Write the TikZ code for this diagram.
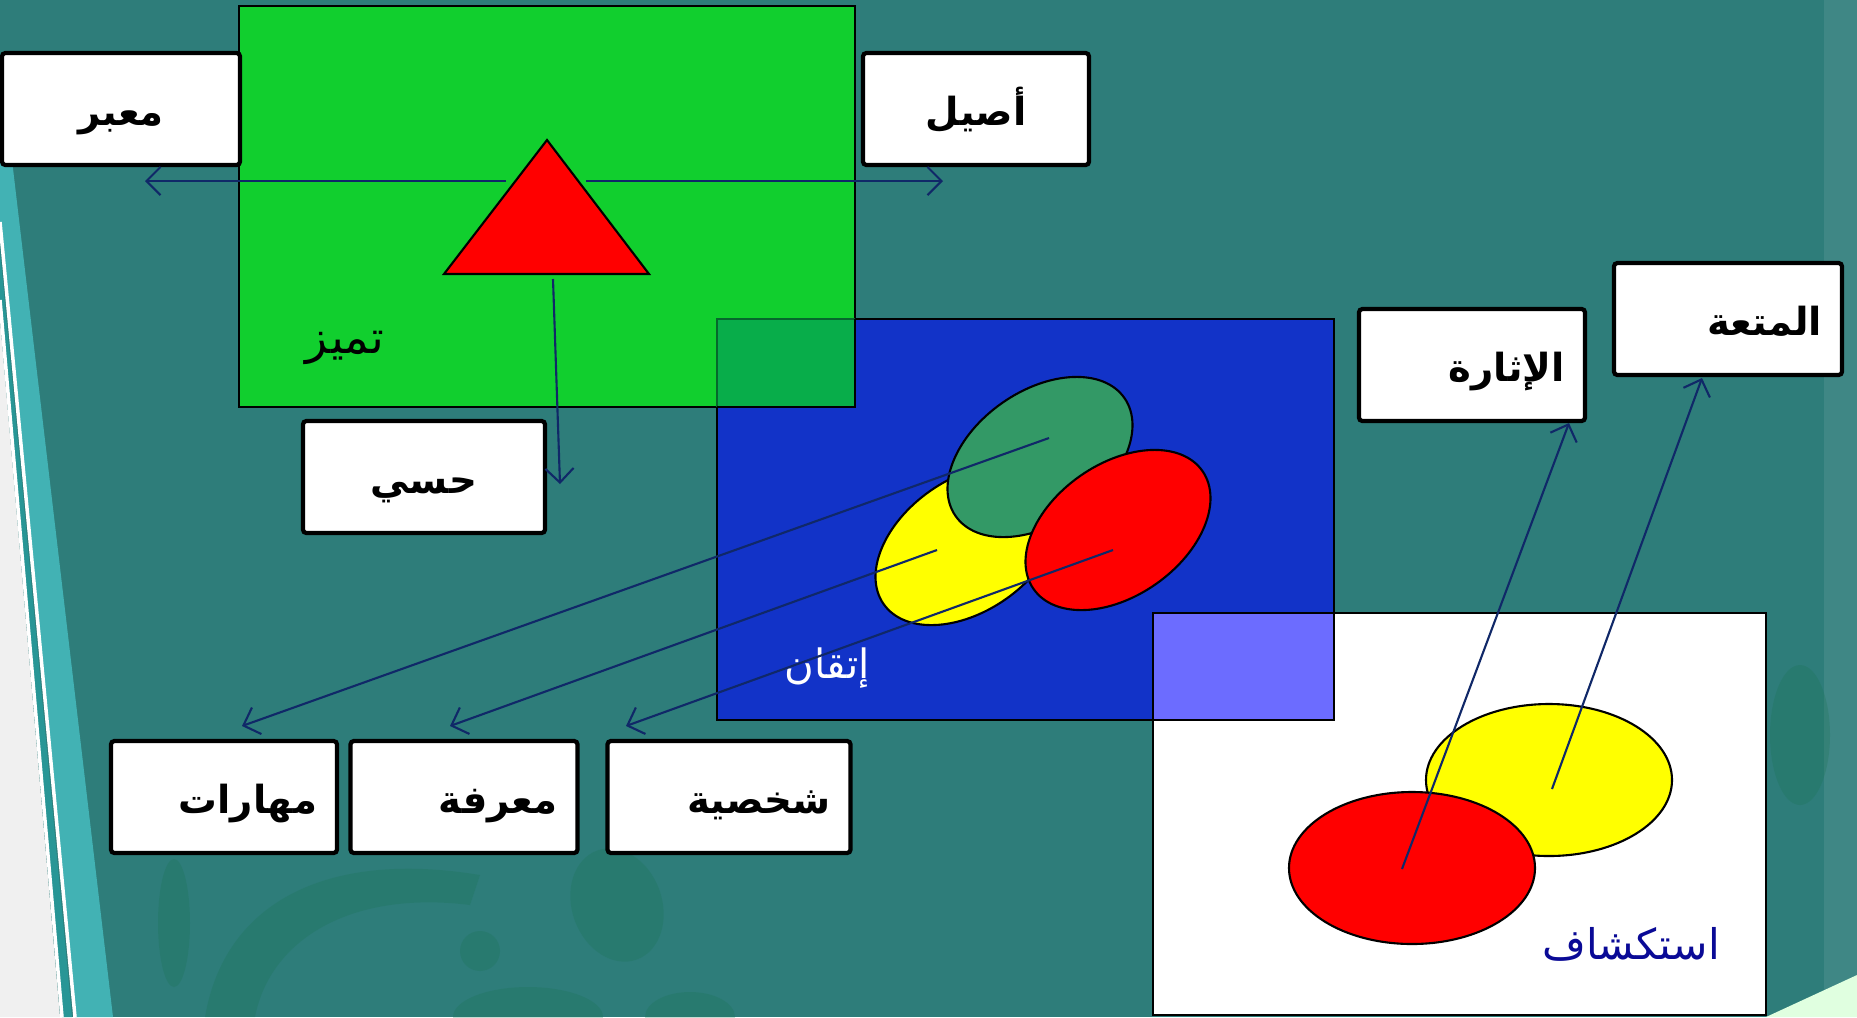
\documentclass[tikz,border=0pt]{standalone}
\usepackage{fontspec}
\usetikzlibrary{arrows.meta}
\newfontfamily\arabicfont[Script=Arabic]{DejaVu Sans}
\TeXXeTstate=1
\newcommand\boxfont{\arabicfont\bfseries\fontsize{11}{13}\selectfont}
\newcommand\tagfont{\arabicfont\fontsize{12}{14}\selectfont}
\definecolor{slideteal}{RGB}{46,125,122}
\definecolor{bandcyan}{RGB}{66,178,180}
\definecolor{bandteal}{RGB}{40,150,150}
\definecolor{leafgreen}{RGB}{25,115,80}
\definecolor{panelgreen}{RGB}{17,207,46}
\definecolor{panelblue}{RGB}{18,51,200}
\definecolor{greenonblue}{RGB}{8,173,74}
\definecolor{whiteonblue}{RGB}{108,108,255}
\definecolor{ovalgreen}{RGB}{51,153,102}
\definecolor{ovalyellow}{RGB}{255,255,0}
\definecolor{ovalred}{RGB}{255,0,0}
\definecolor{linenavy}{RGB}{16,40,104}
\definecolor{labelblue}{RGB}{10,10,150}

\begin{document}
\begin{tikzpicture}[x=0.01cm,y=-0.01cm,
  >={Straight Barb[length=4pt,width=8pt]},
  link/.style={draw=linenavy,line width=0.6pt,->},
  panel/.style={draw=black,line width=0.5pt},
  oval/.style={draw=black,line width=0.6pt},
  wordbox/.style={draw=black,line width=1.2pt,fill=white,rounded corners=1pt,
    minimum height=1.12cm,inner xsep=0.2cm,text height=9.5pt,text depth=0pt,font=\boxfont},
  leaf/.style={fill=leafgreen,opacity=0.25}]
  \useasboundingbox (0,0) rectangle (1857,1017);
  % slide background
  \fill[slideteal] (0,0) rectangle (1857,1017);
  \fill[bandcyan] (0,160) -- (12,160) -- (113,1017) -- (75,1017) -- (0,222) -- cycle;
  \fill[bandteal] (0,250) -- (72,1017) -- (62,1017) -- (0,300) -- cycle;
  \fill[black!6] (0,320) -- (60,1017) -- (0,1017) -- cycle;
  \draw[white,line width=1pt] (0,222) -- (75,1017);
  \draw[white,line width=1pt] (0,300) -- (62,1017);
  \fill[slideteal!92!white] (1824,0) rectangle (1857,1017);
  \fill[green!12!white] (1766,1017) -- (1857,975) -- (1857,1017) -- cycle;
  \fill[leaf] (174,923) ellipse [x radius=16, y radius=64];
  \fill[leaf] (205,1017) .. controls (225,900) and (330,850) .. (480,875)
    -- (470,905) .. controls (350,890) and (270,940) .. (255,1017) -- cycle;
  \fill[leaf,rotate around={20:(617,905)}] (617,905) ellipse [x radius=45, y radius=58];
  \fill[leaf] (480,951) circle [radius=20];
  \fill[leaf] (528,1017) ellipse [x radius=75, y radius=30];
  \fill[leaf] (690,1017) ellipse [x radius=45, y radius=25];
  \fill[leaf] (1800,735) ellipse [x radius=30, y radius=70];

  % panels
  \filldraw[panel,fill=panelblue] (717,319) rectangle (1334,720);
  \filldraw[panel,fill=panelgreen] (239,6) rectangle (855,407);
  \fill[greenonblue] (717,319) rectangle (855,407);
  \draw[black!40!greenonblue,line width=0.5pt] (717,407) -- (717,319) -- (855,319);
  \draw[panel] (855,319) -- (855,407) -- (717,407);
  \filldraw[panel,fill=white] (1153,613) rectangle (1766,1015);
  \filldraw[panel,fill=whiteonblue] (1153,613) rectangle (1334,720);
  \filldraw[oval,fill=ovalred] (547,140) -- (649,274) -- (444,274) -- cycle;

  % ovals
  \filldraw[oval,fill=ovalyellow,rotate around={35:(968,545)}] (968,545) ellipse [x radius=103, y radius=66];
  \filldraw[oval,fill=ovalgreen,rotate around={35:(1040,457)}] (1040,457) ellipse [x radius=103, y radius=66];
  \filldraw[oval,fill=ovalred,rotate around={35:(1118,530)}] (1118,530) ellipse [x radius=103, y radius=66];
  \filldraw[oval,fill=ovalyellow] (1549,780) ellipse [x radius=123, y radius=76];
  \filldraw[oval,fill=ovalred] (1412,868) ellipse [x radius=123, y radius=76];

  % word boxes
  \node[wordbox,minimum width=2.38cm,align=center] (expressive) at (121,109) {\beginR معبر\endR};
  \node[wordbox,minimum width=2.26cm,align=center] (original) at (976,109) {\beginR أصيل\endR};
  \node[wordbox,minimum width=2.42cm,align=center] (sensory) at (424,477) {\beginR حسي\endR};
  \node[wordbox,text width=1.86cm,align=right] (arousal) at (1472,365) {\beginR الإثارة\endR};
  \node[wordbox,text width=1.88cm,align=right] (enjoyment) at (1728,319) {\beginR المتعة\endR};
  \node[wordbox,text width=1.86cm,align=right] (skills) at (224,797) {\beginR مهارات\endR};
  \node[wordbox,text width=1.87cm,align=right] (knowledge) at (464,797) {\beginR معرفة\endR};
  \node[wordbox,text width=2.03cm,align=right] (character) at (729,797) {\beginR شخصية\endR};

  % panel titles
  \node[font=\tagfont\fontsize{13}{15}\selectfont,text=black] (excellence) at (345,348) {\beginR تميز\endR};
  \node[font=\tagfont\fontsize{11.5}{14}\selectfont,text=white] (mastery) at (827,668) {\beginR إتقان\endR};
  \node[font=\tagfont,text=labelblue] (discovery) at (1631,944) {\beginR استكشاف\endR};

  % links
  \coordinate (tri-w) at (506,181);
  \coordinate (tri-e) at (586,181);
  \coordinate (tri-s) at (553,279);
  \coordinate (expressive-in) at (145,181);
  \coordinate (original-in) at (943,181);
  \coordinate (sensory-in) at (560,484);
  \draw[link] (tri-w) -- (expressive-in);
  \draw[link] (tri-e) -- (original-in);
  \draw[link] (tri-s) -- (sensory-in);
  \coordinate (green-c) at (1049,438);
  \coordinate (yellow-c) at (937,550);
  \coordinate (red-c) at (1113,550);
  \coordinate (skills-in) at (242,726);
  \coordinate (knowledge-in) at (450,726);
  \coordinate (character-in) at (626,726);
  \draw[link] (green-c) -- (skills-in);
  \draw[link] (yellow-c) -- (knowledge-in);
  \draw[link] (red-c) -- (character-in);
  \coordinate (red-low) at (1402,869);
  \coordinate (yellow-low) at (1552,789);
  \coordinate (arousal-in) at (1569,423);
  \coordinate (enjoyment-in) at (1702,378);
  \draw[link] (red-low) -- (arousal-in);
  \draw[link] (yellow-low) -- (enjoyment-in);
\end{tikzpicture}
\end{document}
